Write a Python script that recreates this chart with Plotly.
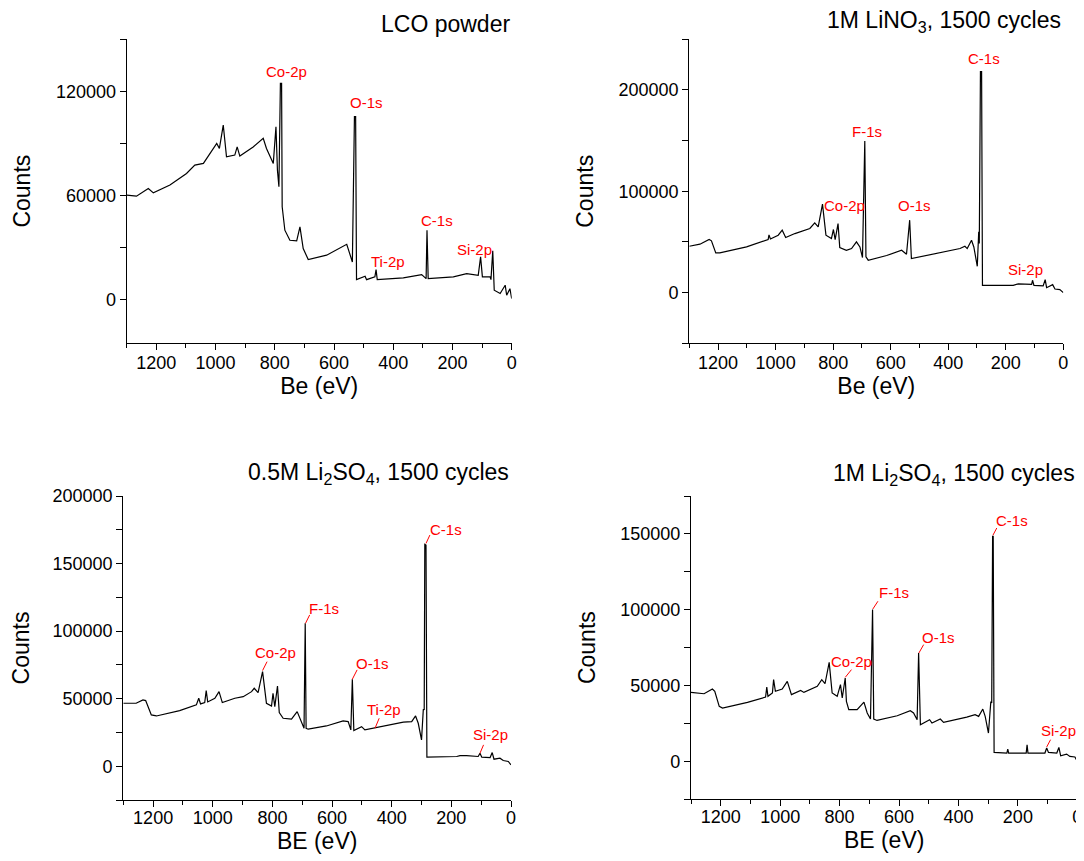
import plotly.graph_objects as go

# the page body adds an 8 px margin; the figure is sized/positioned to compensate
OFF = 8
W, H = 1084 - OFF, 861 - OFF

# ---------------- DATA ----------------
# Panel 1: LCO powder
p1_be = [1300, 1267, 1227, 1210, 1154, 1098, 1070, 1041, 996, 987, 974, 963, 935, 927, 918, 873,
         839, 828, 805, 796, 791, 786, 781, 777, 775, 766, 749, 726, 715, 704, 687, 625, 557, 538,
         531, 527, 524, 495, 490, 462, 458, 454, 366, 304, 289, 286, 282, 197, 152, 113, 105, 99,
         73, 70, 64, 59, 39, 22, 17, 6, 0]
p1_ct = [60200, 59600, 64000, 61500, 66000, 72700, 77500, 78500, 90000, 87100, 100600, 82300, 83300,
         88000, 82700, 88000, 92900, 87100, 78500, 99600, 74600, 65000, 124600, 124600, 53500, 40000,
         34200, 33800, 41900, 29400, 23100, 25600, 31900, 21700, 105400, 105400, 11500, 13500, 11500,
         13100, 17300, 11500, 12500, 14400, 12100, 40000, 12100, 13100, 15000, 14000, 24600, 13100,
         13100, 11500, 28100, 5400, 3500, 8300, 2500, 6300, 600]

# Panel 2: 1M LiNO3, 1500 cycles
p2_be = [1300, 1263, 1231, 1223, 1208, 1194, 1101, 1026, 1023, 1018, 991, 977, 965, 933, 881, 864,
         852, 837, 825, 806, 799, 793, 783, 777, 754, 736, 719, 707, 698, 690, 686, 678, 614, 562,
         545, 534, 528, 464, 359, 342, 334, 319, 311, 299, 294, 292, 288, 284, 281, 174, 157, 110,
         107, 102, 70, 63, 58, 37, 29, 12, 0]
p2_ct = [45800, 47800, 52400, 51100, 39200, 39200, 45100, 52400, 57000, 53000, 56700, 61600, 54400,
         58300, 63300, 68900, 64900, 87300, 56700, 53400, 62300, 52400, 68200, 44500, 41800, 43500,
         50100, 45100, 34600, 149600, 35300, 32000, 36600, 41800, 37900, 71500, 33600, 37600, 43500,
         45800, 43500, 51700, 45100, 26000, 60000, 48400, 218100, 218100, 7200, 7200, 8600, 8200,
         12200, 7200, 6600, 12900, 4900, 7900, 3600, 3000, 0]

# Panel 3: 0.5M Li2SO4, 1500 cycles
p3_be = [1300, 1257, 1234, 1225, 1206, 1189, 1111, 1055, 1047, 1041, 1027, 1022, 1017, 993, 979, 968,
         926, 898, 870, 861, 848, 833, 820, 803, 798, 792, 783, 777, 764, 736, 717, 702, 694, 690,
         687, 680, 619, 563, 546, 537, 532, 527, 501, 490, 462, 456, 361, 333, 320, 311, 300, 294,
         291, 289, 285, 282, 182, 171, 149, 110, 104, 98, 70, 63, 57, 37, 26, 9, 0]
p3_ct = [46600, 46600, 49100, 48600, 38000, 37200, 41200, 45400, 50300, 46100, 47100, 56000, 47600,
         50300, 55200, 47100, 50300, 51500, 55200, 57700, 54500, 70000, 46600, 44600, 54000, 44100,
         59400, 39700, 35500, 34800, 40400, 31800, 28100, 105800, 28100, 27400, 29800, 33500, 33000,
         26900, 64400, 26400, 29300, 26900, 28100, 28900, 32600, 33000, 37200, 31800, 19500, 42200,
         41700, 164200, 163700, 6700, 7200, 7900, 7900, 7200, 9600, 6700, 6400, 10100, 5200, 5900,
         4200, 3500, 1000]

# Panel 4: 1M Li2SO4, 1500 cycles
p4_be = [1300, 1256, 1228, 1220, 1205, 1194, 1110, 1049, 1045, 1041, 1026, 1022, 1016, 993, 976, 962,
         931, 920, 875, 860, 849, 835, 825, 808, 797, 791, 781, 777, 769, 741, 718, 707, 696, 689,
         685, 674, 606, 562, 551, 539, 534, 528, 497, 489, 461, 450, 372, 344, 332, 318, 310, 299,
         291, 288, 285, 283, 280, 237, 234, 231, 172, 169, 166, 109, 103, 97, 69, 62, 56, 36, 25,
         8, 0]
p4_ct = [45500, 44600, 47700, 46200, 36300, 35200, 38900, 42400, 49000, 42900, 45100, 53900, 46200,
         47700, 52800, 44000, 46800, 45500, 49500, 53900, 51200, 65300, 45100, 42900, 50600, 41800,
         55000, 39600, 34100, 34100, 39100, 31900, 27900, 100100, 27900, 27000, 30100, 33400, 31900,
         27500, 71500, 24200, 27500, 25300, 27900, 25700, 29200, 30800, 29700, 34500, 29700, 18700,
         39400, 38500, 148400, 148400, 5900, 5500, 8100, 5500, 5500, 11000, 5500, 5500, 8800, 5900,
         5500, 9200, 3700, 4800, 3300, 2900, 0]

titles = ["LCO powder",
          "1M LiNO<sub>3</sub>, 1500 cycles",
          "0.5M Li<sub>2</sub>SO<sub>4</sub>, 1500 cycles",
          "1M Li<sub>2</sub>SO<sub>4</sub>, 1500 cycles"]
x_titles = ["Be (eV)", "Be (eV)", "BE (eV)", "BE (eV)"]
y_title = "Counts"

x_tickvals = [1200, 1000, 800, 600, 400, 200, 0]
y_ranges = [[-25000, 150000], [-50000, 250000], [-25000, 200000], [-25000, 175000]]
y_dticks = [60000, 100000, 50000, 50000]
y_minor = [30000, 50000, 25000, 25000]

# peak labels: text, label centre (BE, counts)
p1_lab = ["Co-2p", "O-1s", "Ti-2p", "C-1s", "Si-2p"]
p1_lx = [760, 490, 417, 251, 124]
p1_ly = [131300, 113500, 21700, 45400, 29000]

p2_lab = ["C-1s", "F-1s", "Co-2p", "O-1s", "Si-2p"]
p2_lx = [276, 684, 759, 518, 133]
p2_ly = [231300, 159500, 86300, 86300, 22700]

p3_lab = ["C-1s", "F-1s", "Co-2p", "O-1s", "Ti-2p", "Si-2p"]
p3_lx = [218, 628, 790, 464, 425, 70]
p3_ly = [175300, 116900, 84100, 76200, 42200, 23200]
# leader lines (peak -> label)
p3_l_x0 = [285, 689, 833, 532, 456, 104]
p3_l_y0 = [164900, 105800, 70800, 64400, 28100, 9600]
p3_l_x1 = [272, 675, 818, 516, 442, 92]
p3_l_y1 = [171100, 112000, 77400, 71300, 35500, 15800]

p4_lab = ["C-1s", "F-1s", "O-1s", "Co-2p", "Si-2p"]
p4_lx = [220, 618, 467, 761, 62]
p4_ly = [158800, 111100, 81400, 66000, 20500]
p4_l_x0 = [284, 688, 533, 781, 103]
p4_l_y0 = [149100, 100500, 71500, 55400, 9500]
p4_l_x1 = [271, 671, 517, 760, 90]
p4_l_y1 = [153900, 105600, 77000, 60500, 14300]

# ---------------- LAYOUT (pixel boxes of plot areas, page coordinates) ----------------
boxes = [(126.7, 511.7, 39.3, 343.0),
         (689.3, 1063.3, 39.3, 343.3),
         (123.3, 511.0, 496.0, 800.0),
         (691.0, 1077.3, 496.0, 799.3)]
title_shift = [0, 1, 6, 5]
x_label_standoff = [-3, -3, -5, -5]

FONT = "Liberation Sans, Arial, sans-serif"

fig = go.Figure()
layout = dict(width=W, height=H, showlegend=False, plot_bgcolor="white", paper_bgcolor="white",
              margin=dict(l=0, r=0, t=0, b=0, autoexpand=False),
              font=dict(family=FONT, color="black"))
annotations = []

series = [(p1_be, p1_ct), (p2_be, p2_ct), (p3_be, p3_ct), (p4_be, p4_ct)]
labels = [(p1_lab, p1_lx, p1_ly), (p2_lab, p2_lx, p2_ly), (p3_lab, p3_lx, p3_ly), (p4_lab, p4_lx, p4_ly)]
leaders = [None, None, (p3_l_x0, p3_l_y0, p3_l_x1, p3_l_y1), (p4_l_x0, p4_l_y0, p4_l_x1, p4_l_y1)]

for i in range(4):
    x0, x1, y0, y1 = [v - OFF for v in boxes[i]]
    xd = [x0 / W, x1 / W]
    yd = [1 - y1 / H, 1 - y0 / H]
    n = 4 * i
    xb, xt, yl, yr = n + 1, n + 2, n + 3, n + 4
    xb_n = "xaxis" if xb == 1 else f"xaxis{xb}"
    xr_b = "x" if xb == 1 else f"x{xb}"
    yl_n = f"yaxis{yl}"
    yr_l = f"y{yl}"
    common_x = dict(domain=xd, range=[1300, 0], showline=True, linecolor="black", linewidth=1.2,
                    showgrid=False, zeroline=False, tickvals=x_tickvals, automargin=False)
    common_y = dict(domain=yd, range=y_ranges[i], showline=True, linecolor="black", linewidth=1.2,
                    showgrid=False, zeroline=False, dtick=y_dticks[i], tick0=0, automargin=False,
                    tickformat="d")
    layout[xb_n] = dict(common_x, anchor=yr_l, side="bottom", ticks="outside", ticklen=6,
                        tickwidth=1, tickcolor="black", tickfont=dict(size=18, family=FONT),
                        ticklabelstandoff=x_label_standoff[i],
                        minor=dict(ticks="outside", ticklen=4, dtick=100, tick0=0, tickcolor="black"),
                        title=dict(text=x_titles[i], font=dict(size=23, family=FONT), standoff=4))
    layout[f"xaxis{xt}"] = dict(common_x, anchor=yr_l, overlaying=xr_b, side="top", ticks="inside",
                                ticklen=5, tickcolor="black", showticklabels=False,
                                minor=dict(ticks="inside", ticklen=3, dtick=100, tick0=0, tickcolor="black"))
    layout[yl_n] = dict(common_y, anchor=xr_b, side="left", ticks="outside", ticklen=6,
                        tickcolor="black", tickfont=dict(size=18, family=FONT),
                        minor=dict(ticks="outside", ticklen=6, dtick=y_minor[i], tick0=0, tickcolor="black"),
                        title=dict(text=y_title, font=dict(size=23, family=FONT), standoff=18))
    layout[f"yaxis{yr}"] = dict(common_y, anchor=xr_b, overlaying=yr_l, side="right", ticks="inside",
                                ticklen=5, tickcolor="black", showticklabels=False,
                                minor=dict(ticks="inside", ticklen=5, dtick=y_minor[i], tick0=0, tickcolor="black"))

    be, ct = series[i]
    fig.add_trace(go.Scatter(x=be, y=ct, mode="lines", line=dict(color="black", width=1.2),
                             xaxis=xr_b, yaxis=yr_l, hoverinfo="skip"))
    if leaders[i] is not None:
        lx0, ly0, lx1, ly1 = leaders[i]
        for a, b, c, d in zip(lx0, ly0, lx1, ly1):
            fig.add_trace(go.Scatter(x=[a, c], y=[b, d], mode="lines", line=dict(color="red", width=1),
                                     xaxis=xr_b, yaxis=yr_l, hoverinfo="skip"))
    txt, tx, ty = labels[i]
    for t, a, b in zip(txt, tx, ty):
        annotations.append(dict(text=t, x=a, y=b, xref=xr_b, yref=yr_l, showarrow=False,
                                font=dict(color="red", size=15, family=FONT)))
    annotations.append(dict(text=titles[i], x=xd[1], y=yd[1], xref="paper", yref="paper",
                            xanchor="right", yanchor="bottom", yshift=title_shift[i], showarrow=False,
                            font=dict(size=23, family=FONT, color="black")))

layout["annotations"] = annotations
fig.update_layout(**layout)
fig.write_html("out.html")
